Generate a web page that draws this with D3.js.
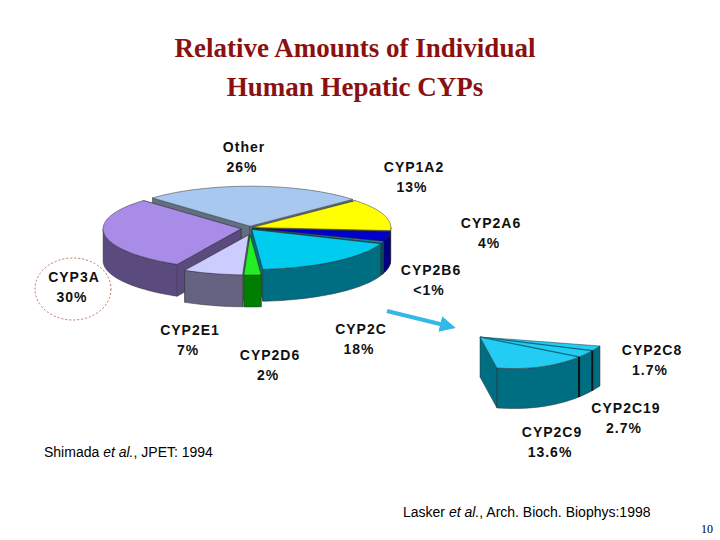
<!DOCTYPE html><html><head><meta charset="utf-8">
<script src="https://cdn.jsdelivr.net/npm/d3@7/dist/d3.min.js"></script>
<style>body{margin:0;background:#fff}</style></head><body>
<svg id="c" width="720" height="540"></svg>
<script>
const mainNames=["CYP1A2","CYP2A6","CYP2B6","CYP2C","CYP2D6","CYP2E1","CYP3A","Other"];
const mainLabels=["13%","4%","<1%","18%","2%","7%","30%","26%"];
const mainValues=[13,4,0.6,18,2,7,30,26];
const mainTop=["#ffff00","#0000cc","#00aacc","#00ccf0","#22ee22","#ccccff","#a98be8","#a8c8f0"];
const mainSide=["#a0a000","#000080","#005060","#006e82","#008000","#646482","#5a4a7e","#607080"];
const mainExplode=[3,3,3,3,5,5,9,3];
const subNames=["CYP2C9","CYP2C19","CYP2C8"];
const subLabels=["13.6%","2.7%","1.7%"];
const subValues=[13.6,2.7,1.7];

const svg=d3.select("#c");
svg.append("text").attr("x",355).attr("y",57).attr("text-anchor","middle").attr("font-family","Liberation Serif").attr("font-weight","bold").attr("font-size",27).attr("fill","#8b1010").text("Relative Amounts of Individual");
svg.append("text").attr("x",355).attr("y",96).attr("text-anchor","middle").attr("font-family","Liberation Serif").attr("font-weight","bold").attr("font-size",27).attr("fill","#8b1010").text("Human Hepatic CYPs");

const cx=250,cy=228,rx=138,ry=40,depth=32;
const a0=-42*Math.PI/180;
const pie=d3.pie().sort(null).startAngle(a0).endAngle(a0+2*Math.PI).value(d=>d)(mainValues);
const g=svg.append("g");
const pt=(ox,oy,a,dy)=>[ox+rx*Math.cos(a),oy+ry*Math.sin(a)+(dy||0)];
const slices=pie.map((p,i)=>{const m=(p.startAngle+p.endAngle)/2;const e=mainExplode[i];
 return {i,s:p.startAngle,e:p.endAngle,m,ox:cx+e*Math.cos(m),oy:cy+e*0.6*Math.sin(m)+(i>=4&&i<=5?4:0)};});
function arcPts(ox,oy,s,e,dy){const n=Math.max(2,Math.ceil((e-s)/0.03));return d3.range(n+1).map(k=>pt(ox,oy,s+(e-s)*k/n,dy));}
const walls=[];
slices.forEach(sl=>{
 [sl.s,sl.e].forEach(a=>{const p=pt(sl.ox,sl.oy,a);walls.push({z:(sl.oy+p[1])/2,i:sl.i,pts:[[sl.ox,sl.oy],p,[p[0],p[1]+depth],[sl.ox,sl.oy+depth]]});});
 for(let k=-1;k<=1;k++){const lo=Math.max(sl.s,2*Math.PI*k),hi=Math.min(sl.e,Math.PI+2*Math.PI*k);
  if(hi>lo){const top=arcPts(sl.ox,sl.oy,lo,hi,0),bot=arcPts(sl.ox,sl.oy,lo,hi,depth).reverse();walls.push({z:1000,i:sl.i,pts:top.concat(bot)});}}
});
walls.sort((a,b)=>a.z-b.z);
g.selectAll("path.w").data(walls).join("path").attr("d",d=>d3.line()(d.pts)+"Z").attr("fill",d=>mainSide[d.i]).attr("stroke","#333").attr("stroke-width",0.5);
g.selectAll("path.t").data(slices).join("path").attr("d",sl=>d3.line()([[sl.ox,sl.oy]].concat(arcPts(sl.ox,sl.oy,sl.s,sl.e,0)))+"Z").attr("fill",sl=>mainTop[sl.i]).attr("stroke","#333").attr("stroke-width",0.5);

const apex=[480,337],P0=[497,368],P1=[600,346],C=[560,372],sd=40;
const q=t=>[(1-t)*(1-t)*P0[0]+2*t*(1-t)*C[0]+t*t*P1[0],(1-t)*(1-t)*P0[1]+2*t*(1-t)*C[1]+t*t*P1[1]];
const tot=d3.sum(subValues);const cum=[0];subValues.forEach(v=>cum.push(cum[cum.length-1]+v));
const ts=d3.scaleLinear().domain([0,tot]).range([0,1]);
const sg=svg.append("g");
sg.append("path").attr("d",d3.line()([apex,P0,[P0[0],P0[1]+sd],[apex[0],apex[1]+sd]])+"Z").attr("fill","#006e82").attr("stroke","#333").attr("stroke-width",0.5);
const arcT=d3.range(0,1.001,0.05).map(q);
sg.append("path").attr("d",d3.line()(arcT.concat(arcT.slice().reverse().map(p=>[p[0],p[1]+sd])))+"Z").attr("fill","#006e82").attr("stroke","#333").attr("stroke-width",0.5);
sg.append("path").attr("d",d3.line()([apex].concat(arcT))+"Z").attr("fill","#22ccf2").attr("stroke","#333").attr("stroke-width",0.5);
cum.slice(1,-1).forEach(c=>{const p=q(ts(c));sg.append("line").attr("x1",apex[0]).attr("y1",apex[1]).attr("x2",p[0]).attr("y2",p[1]).attr("stroke","#0a6a80").attr("stroke-width",1.2);
 sg.append("line").attr("x1",p[0]).attr("y1",p[1]).attr("x2",p[0]).attr("y2",p[1]+sd).attr("stroke","#111").attr("stroke-width",2);});

svg.append("defs").append("marker").attr("id","ah").attr("viewBox","0 0 10 10").attr("refX",5).attr("refY",5).attr("markerWidth",4).attr("markerHeight",4).attr("orient","auto").append("path").attr("d","M0,0L10,5L0,10Z").attr("fill","#33b8e8");
svg.append("line").attr("x1",387).attr("y1",311).attr("x2",448).attr("y2",326).attr("stroke","#33b8e8").attr("stroke-width",4).attr("marker-end","url(#ah)");
svg.append("ellipse").attr("cx",73).attr("cy",289).attr("rx",38).attr("ry",31).attr("fill","none").attr("stroke","#c07060").attr("stroke-dasharray","2,2");

const labPos={"Other":[244,152],"CYP1A2":[414,172],"CYP2A6":[491,228],"CYP2B6":[431,275],"CYP3A":[74,282],"CYP2E1":[190,335],"CYP2D6":[270,360],"CYP2C":[361,334],"CYP2C8":[652,355],"CYP2C19":[626,413],"CYP2C9":[552,437]};
const names=mainNames.concat(subNames),labs=mainLabels.concat(subLabels);
names.forEach((n,k)=>{const p=labPos[n];const t=svg.append("text").attr("text-anchor","middle").attr("font-family","Liberation Sans").attr("font-weight","bold").attr("font-size",14).attr("letter-spacing",1).attr("fill","#111");
 t.append("tspan").attr("x",p[0]).attr("y",p[1]).text(n);t.append("tspan").attr("x",p[0]-2).attr("y",p[1]+20).text(labs[k]);});

function cite(x,y,a,b){const t=svg.append("text").attr("x",x).attr("y",y).attr("font-family","Liberation Sans").attr("font-size",14).attr("fill","#000");
 t.append("tspan").text(a+" ");t.append("tspan").attr("font-style","italic").text("et al.");t.append("tspan").text(b);}
cite(44,457,"Shimada",", JPET: 1994");
cite(403,517,"Lasker",", Arch. Bioch. Biophys:1998");
svg.append("text").attr("x",713).attr("y",533).attr("text-anchor","end").attr("font-family","Liberation Serif").attr("font-size",12).text("10");
</script></body></html>
